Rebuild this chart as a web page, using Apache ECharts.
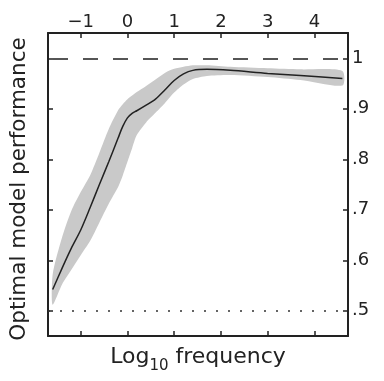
<!DOCTYPE html>
<html>
<head>
<meta charset="utf-8">
<style>
  html, body { margin: 0; padding: 0; background: #fff; }
  #chart { width: 384px; height: 381px; }
</style>
<script src="https://cdn.jsdelivr.net/npm/echarts@6/dist/echarts.min.js"></script>
</head>
<body>
<div id="chart"></div>
<script>
// log10 frequency samples
const logFreq   = [-1.6, -1.4, -1.2, -1.0, -0.8, -0.6, -0.4, -0.2, -0.1, 0, 0.1, 0.2, 0.4, 0.6, 0.8, 1.0, 1.2, 1.4, 1.7, 2.2, 3.0, 3.7, 4.6];
const perfMean  = [0.542, 0.584, 0.624, 0.660, 0.704, 0.750, 0.795, 0.842, 0.865, 0.882, 0.891, 0.896, 0.907, 0.919, 0.937, 0.956, 0.969, 0.976, 0.978, 0.976, 0.970, 0.966, 0.960];
const perfLower = [0.512, 0.552, 0.581, 0.610, 0.638, 0.675, 0.712, 0.745, 0.768, 0.795, 0.822, 0.848, 0.873, 0.892, 0.911, 0.932, 0.948, 0.959, 0.965, 0.967, 0.963, 0.957, 0.946];
const perfUpper = [0.572, 0.645, 0.698, 0.735, 0.768, 0.813, 0.860, 0.897, 0.909, 0.919, 0.926, 0.933, 0.945, 0.958, 0.971, 0.979, 0.983, 0.986, 0.986, 0.983, 0.980, 0.978, 0.975];

const xTicks = [-1, 0, 1, 2, 3, 4];
const xTickLabels = ['\u22121', '0', '1', '2', '3', '4'];
const yTicks = [0.5, 0.6, 0.7, 0.8, 0.9, 1];
const yTickLabels = ['.5', '.6', '.7', '.8', '.9', '1'];

const ceilingLevel = 1;   // dashed
const chanceLevel = 0.5;  // dotted

const FONT = 'DejaVu Sans';
const INK = '#222';

function tickLabel(ticks, labels) {
  return function (v) {
    const i = ticks.findIndex(t => Math.abs(t - v) < 1e-6);
    return i >= 0 ? labels[i] : '';
  };
}

const chart = echarts.init(document.getElementById('chart'), null, { renderer: 'canvas' });

const axisLine = { show: true, onZero: false, lineStyle: { color: INK, width: 2 } };

const xBase = {
  type: 'value', min: -1.7, max: 4.72,
  axisLine: axisLine,
  axisTick: { show: true, inside: true, length: 5, customValues: xTicks, lineStyle: { color: INK, width: 1.5 } },
  splitLine: { show: false }
};
const yBase = {
  type: 'value', min: 0.45, max: 1.05,
  axisLine: axisLine,
  axisTick: { show: true, inside: true, length: 5, customValues: yTicks, lineStyle: { color: INK, width: 1.5 } },
  splitLine: { show: false }
};

// confidence band: one polygon, upper edge then lower edge back
function renderBand(params, api) {
  if (params.dataIndex !== 0) return;
  const top = logFreq.map((x, i) => api.coord([x, perfUpper[i]]));
  const bottom = logFreq.map((x, i) => api.coord([x, perfLower[i]])).reverse();
  return {
    type: 'polygon',
    silent: true,
    shape: { points: top.concat(bottom), smooth: 0.25 },
    style: { fill: '#c9c9c9' }
  };
}

let option = {
  backgroundColor: '#ffffff',
  animation: false,
  grid: { left: 45, right: 36, top: 33, bottom: 45 },
  xAxis: [
    Object.assign({}, xBase, {
      position: 'top',
      axisLabel: {
        customValues: xTicks, formatter: tickLabel(xTicks, xTickLabels),
        fontSize: 18, fontFamily: FONT, color: INK, margin: 2
      }
    }),
    Object.assign({}, xBase, {
      position: 'bottom',
      axisLabel: { show: false },
      name: 'Log{sub|10} frequency',
      nameLocation: 'middle',
      nameGap: 5,
      nameTextStyle: {
        fontSize: 22, fontFamily: FONT, color: INK,
        rich: { sub: { fontSize: 15, fontFamily: FONT, color: INK, padding: [18, 0, 0, 0] } }
      }
    })
  ],
  yAxis: [
    Object.assign({}, yBase, {
      position: 'right',
      axisLabel: {
        customValues: yTicks, formatter: tickLabel(yTicks, yTickLabels),
        fontSize: 18, fontFamily: FONT, color: INK, margin: 4
      }
    }),
    Object.assign({}, yBase, {
      position: 'left',
      axisLabel: { show: false },
      name: 'Optimal model performance',
      nameLocation: 'middle',
      nameRotate: 90,
      nameGap: 18,
      nameTextStyle: { fontSize: 21.5, fontFamily: FONT, color: INK, padding: [0, 9, 0, 0] }
    })
  ],
  series: [
    {
      name: 'band', type: 'custom', silent: true,
      renderItem: renderBand,
      encode: { x: 0, y: [1, 2] },
      data: logFreq.map((x, i) => [x, perfLower[i], perfUpper[i]])
    },
    {
      name: 'mean', type: 'line', silent: true,
      symbol: 'none', smooth: 0.3, z: 5,
      lineStyle: { color: INK, width: 1.5 },
      data: logFreq.map((x, i) => [x, perfMean[i]]),
      markLine: {
        silent: true, symbol: ['none', 'none'], label: { show: false },
        data: [
          { yAxis: ceilingLevel, lineStyle: { type: [15, 15], dashOffset: -5, color: '#555', width: 2 } },
          { yAxis: chanceLevel, lineStyle: { type: [2, 10], color: '#333', width: 1.5 } }
        ]
      }
    }
  ]
};

chart.setOption(option);
</script>
</body>
</html>
